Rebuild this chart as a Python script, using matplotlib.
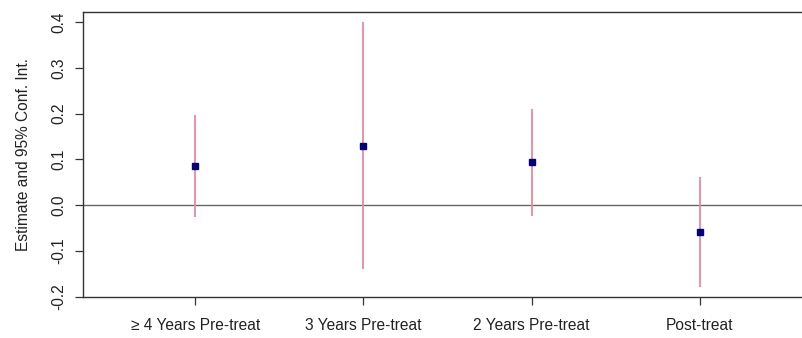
import matplotlib
matplotlib.use('Agg')
import matplotlib.pyplot as plt

# Coeficientes del estudio de eventos
labels = ['\u2265 4 Years Pre-treat', '3 Years Pre-treat', '2 Years Pre-treat', 'Post-treat']
estimates = [0.086, 0.130, 0.095, -0.058]
ci_low = [-0.027, -0.140, -0.023, -0.179]
ci_high = [0.197, 0.400, 0.211, 0.062]

plt.rcParams['font.family'] = ['Liberation Sans', 'DejaVu Sans']
plt.rcParams['font.size'] = 11.2

fig = plt.figure(figsize=(8.03, 3.38), dpi=100)
ax = fig.add_axes([0.1034, 0.1213, 0.908, 0.8432])

x = list(range(1, len(labels) + 1))

# Intervalos de confianza y estimaciones
ax.vlines(x, ci_low, ci_high, color='#E8899F', linewidth=1.3, zorder=2)
ax.plot(x, estimates, linestyle='none', marker='s', markersize=5,
        color='#000080', zorder=3)
ax.axhline(0, color='#666666', linewidth=1.0, zorder=1)

ax.set_xlim(0.333, 4.667)
ax.set_ylim(-0.201, 0.422)
ax.set_xticks(x)
ax.set_xticklabels(labels)
ax.set_yticks([-0.2, -0.1, 0.0, 0.1, 0.2, 0.3, 0.4])
ax.set_yticklabels(['-0.2', '-0.1', '0.0', '0.1', '0.2', '0.3', '0.4'],
                   rotation=90, va='center')

for s in ax.spines.values():
    s.set_color('#333333')
    s.set_linewidth(1.0)

ax.tick_params(axis='both', direction='out', length=6, width=0.9,
               color='#333333', labelcolor='#222222')
ax.tick_params(axis='x', pad=9)
ax.tick_params(axis='y', pad=6)

ax.set_ylabel('Estimate and 95% Conf. Int.', color='#222222')
ax.yaxis.set_label_coords(-0.072, 0.5)

fig.savefig('out.png', dpi=100)
